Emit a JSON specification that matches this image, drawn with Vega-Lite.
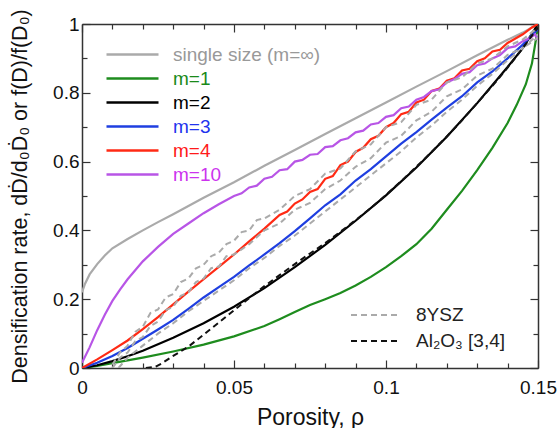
{
"$schema": "https://vega.github.io/schema/vega-lite/v6.json",
"width": 456, "height": 344,
"autosize": {"type": "none"},
"padding": {"left": 82, "top": 24, "right": 20, "bottom": 60},
"background": "white",
"config": {
 "view": {"stroke": null},
 "font": "Liberation Sans",
 "axis": {"domainColor": "#333", "domainWidth": 1.5, "tickColor": "#333", "tickWidth": 1.2, "labelFont": "Liberation Sans", "labelFontSize": 19, "labelColor": "#111", "titleFont": "Liberation Sans", "titleFontSize": 23, "titleFontWeight": "normal", "titleColor": "#111", "grid": false, "labelFlush": false, "labelOverlap": false}
},
"datasets": {
 "models": [
  {"series":"single size (m=∞)","x":0,"y":0.22},{"series":"single size (m=∞)","x":0.001,"y":0.245},{"series":"single size (m=∞)","x":0.0025,"y":0.272},{"series":"single size (m=∞)","x":0.005,"y":0.302},{"series":"single size (m=∞)","x":0.0075,"y":0.327},{"series":"single size (m=∞)","x":0.01,"y":0.348},{"series":"single size (m=∞)","x":0.015,"y":0.375},{"series":"single size (m=∞)","x":0.02,"y":0.4},{"series":"single size (m=∞)","x":0.025,"y":0.424},{"series":"single size (m=∞)","x":0.03,"y":0.447},{"series":"single size (m=∞)","x":0.035,"y":0.471},{"series":"single size (m=∞)","x":0.04,"y":0.495},{"series":"single size (m=∞)","x":0.05,"y":0.54},{"series":"single size (m=∞)","x":0.06,"y":0.588},{"series":"single size (m=∞)","x":0.07,"y":0.634},{"series":"single size (m=∞)","x":0.08,"y":0.68},{"series":"single size (m=∞)","x":0.09,"y":0.726},{"series":"single size (m=∞)","x":0.1,"y":0.772},{"series":"single size (m=∞)","x":0.11,"y":0.818},{"series":"single size (m=∞)","x":0.12,"y":0.863},{"series":"single size (m=∞)","x":0.13,"y":0.909},{"series":"single size (m=∞)","x":0.14,"y":0.954},{"series":"single size (m=∞)","x":0.145,"y":0.975},{"series":"single size (m=∞)","x":0.15,"y":1.0},
  {"series":"m=1","x":0,"y":0},{"series":"m=1","x":0.005,"y":0.006},{"series":"m=1","x":0.01,"y":0.014},{"series":"m=1","x":0.015,"y":0.022},{"series":"m=1","x":0.02,"y":0.03},{"series":"m=1","x":0.03,"y":0.048},{"series":"m=1","x":0.04,"y":0.068},{"series":"m=1","x":0.05,"y":0.092},{"series":"m=1","x":0.06,"y":0.122},{"series":"m=1","x":0.065,"y":0.142},{"series":"m=1","x":0.07,"y":0.163},{"series":"m=1","x":0.075,"y":0.183},{"series":"m=1","x":0.08,"y":0.2},{"series":"m=1","x":0.085,"y":0.218},{"series":"m=1","x":0.09,"y":0.24},{"series":"m=1","x":0.095,"y":0.265},{"series":"m=1","x":0.1,"y":0.293},{"series":"m=1","x":0.105,"y":0.325},{"series":"m=1","x":0.11,"y":0.36},{"series":"m=1","x":0.115,"y":0.405},{"series":"m=1","x":0.12,"y":0.46},{"series":"m=1","x":0.125,"y":0.515},{"series":"m=1","x":0.13,"y":0.575},{"series":"m=1","x":0.135,"y":0.64},{"series":"m=1","x":0.14,"y":0.712},{"series":"m=1","x":0.143,"y":0.765},{"series":"m=1","x":0.146,"y":0.825},{"series":"m=1","x":0.148,"y":0.885},{"series":"m=1","x":0.15,"y":0.99},
  {"series":"m=2","x":0,"y":0},{"series":"m=2","x":0.005,"y":0.008},{"series":"m=2","x":0.01,"y":0.02},{"series":"m=2","x":0.015,"y":0.034},{"series":"m=2","x":0.02,"y":0.05},{"series":"m=2","x":0.03,"y":0.088},{"series":"m=2","x":0.04,"y":0.13},{"series":"m=2","x":0.05,"y":0.178},{"series":"m=2","x":0.06,"y":0.232},{"series":"m=2","x":0.07,"y":0.293},{"series":"m=2","x":0.08,"y":0.358},{"series":"m=2","x":0.09,"y":0.428},{"series":"m=2","x":0.1,"y":0.502},{"series":"m=2","x":0.11,"y":0.583},{"series":"m=2","x":0.12,"y":0.672},{"series":"m=2","x":0.13,"y":0.77},{"series":"m=2","x":0.14,"y":0.875},{"series":"m=2","x":0.145,"y":0.93},{"series":"m=2","x":0.15,"y":1.0},
  {"series":"m=3","x":0,"y":0},{"series":"m=3","x":0.005,"y":0.015},{"series":"m=3","x":0.01,"y":0.035},{"series":"m=3","x":0.015,"y":0.058},{"series":"m=3","x":0.02,"y":0.085},{"series":"m=3","x":0.025,"y":0.112},{"series":"m=3","x":0.03,"y":0.14},{"series":"m=3","x":0.035,"y":0.172},{"series":"m=3","x":0.04,"y":0.205},{"series":"m=3","x":0.045,"y":0.235},{"series":"m=3","x":0.05,"y":0.265},{"series":"m=3","x":0.055,"y":0.298},{"series":"m=3","x":0.06,"y":0.33},{"series":"m=3","x":0.065,"y":0.363},{"series":"m=3","x":0.07,"y":0.398},{"series":"m=3","x":0.075,"y":0.435},{"series":"m=3","x":0.08,"y":0.473},{"series":"m=3","x":0.085,"y":0.505},{"series":"m=3","x":0.09,"y":0.545},{"series":"m=3","x":0.095,"y":0.578},{"series":"m=3","x":0.1,"y":0.615},{"series":"m=3","x":0.105,"y":0.652},{"series":"m=3","x":0.11,"y":0.686},{"series":"m=3","x":0.115,"y":0.722},{"series":"m=3","x":0.12,"y":0.757},{"series":"m=3","x":0.125,"y":0.79},{"series":"m=3","x":0.13,"y":0.83},{"series":"m=3","x":0.135,"y":0.862},{"series":"m=3","x":0.14,"y":0.9},{"series":"m=3","x":0.145,"y":0.94},{"series":"m=3","x":0.15,"y":0.985},
  {"series":"m=4","x":0,"y":0},{"series":"m=4","x":0.005,"y":0.025},{"series":"m=4","x":0.01,"y":0.052},{"series":"m=4","x":0.015,"y":0.08},{"series":"m=4","x":0.02,"y":0.113},{"series":"m=4","x":0.025,"y":0.148},{"series":"m=4","x":0.03,"y":0.185},{"series":"m=4","x":0.035,"y":0.222},{"series":"m=4","x":0.04,"y":0.258},{"series":"m=4","x":0.045,"y":0.294},{"series":"m=4","x":0.05,"y":0.33},{"series":"m=4","x":0.055,"y":0.368},{"series":"m=4","x":0.06,"y":0.405},{"series":"m=4","x":0.065,"y":0.445},{"series":"m=4","x":0.0675,"y":0.455},{"series":"m=4","x":0.07,"y":0.478},{"series":"m=4","x":0.0725,"y":0.49},{"series":"m=4","x":0.075,"y":0.512},{"series":"m=4","x":0.0775,"y":0.52},{"series":"m=4","x":0.08,"y":0.55},{"series":"m=4","x":0.0825,"y":0.558},{"series":"m=4","x":0.085,"y":0.59},{"series":"m=4","x":0.0875,"y":0.6},{"series":"m=4","x":0.09,"y":0.628},{"series":"m=4","x":0.0925,"y":0.64},{"series":"m=4","x":0.095,"y":0.665},{"series":"m=4","x":0.0975,"y":0.675},{"series":"m=4","x":0.1,"y":0.7},{"series":"m=4","x":0.1025,"y":0.712},{"series":"m=4","x":0.105,"y":0.738},{"series":"m=4","x":0.1075,"y":0.745},{"series":"m=4","x":0.11,"y":0.772},{"series":"m=4","x":0.1125,"y":0.78},{"series":"m=4","x":0.115,"y":0.805},{"series":"m=4","x":0.1175,"y":0.812},{"series":"m=4","x":0.12,"y":0.835},{"series":"m=4","x":0.1225,"y":0.842},{"series":"m=4","x":0.125,"y":0.865},{"series":"m=4","x":0.1275,"y":0.87},{"series":"m=4","x":0.13,"y":0.892},{"series":"m=4","x":0.1325,"y":0.9},{"series":"m=4","x":0.135,"y":0.92},{"series":"m=4","x":0.1375,"y":0.925},{"series":"m=4","x":0.14,"y":0.945},{"series":"m=4","x":0.145,"y":0.97},{"series":"m=4","x":0.148,"y":0.99},{"series":"m=4","x":0.15,"y":1.0},
  {"series":"m=10","x":0,"y":0.015},{"series":"m=10","x":0.0025,"y":0.06},{"series":"m=10","x":0.005,"y":0.11},{"series":"m=10","x":0.0075,"y":0.155},{"series":"m=10","x":0.01,"y":0.195},{"series":"m=10","x":0.0125,"y":0.228},{"series":"m=10","x":0.015,"y":0.258},{"series":"m=10","x":0.02,"y":0.31},{"series":"m=10","x":0.025,"y":0.352},{"series":"m=10","x":0.03,"y":0.39},{"series":"m=10","x":0.035,"y":0.42},{"series":"m=10","x":0.04,"y":0.45},{"series":"m=10","x":0.045,"y":0.476},{"series":"m=10","x":0.05,"y":0.5},{"series":"m=10","x":0.0525,"y":0.508},{"series":"m=10","x":0.055,"y":0.525},{"series":"m=10","x":0.0575,"y":0.53},{"series":"m=10","x":0.06,"y":0.55},{"series":"m=10","x":0.0625,"y":0.556},{"series":"m=10","x":0.065,"y":0.575},{"series":"m=10","x":0.0675,"y":0.578},{"series":"m=10","x":0.07,"y":0.6},{"series":"m=10","x":0.0725,"y":0.605},{"series":"m=10","x":0.075,"y":0.62},{"series":"m=10","x":0.0775,"y":0.622},{"series":"m=10","x":0.08,"y":0.642},{"series":"m=10","x":0.0825,"y":0.645},{"series":"m=10","x":0.085,"y":0.662},{"series":"m=10","x":0.0875,"y":0.668},{"series":"m=10","x":0.09,"y":0.685},{"series":"m=10","x":0.0925,"y":0.69},{"series":"m=10","x":0.095,"y":0.708},{"series":"m=10","x":0.0975,"y":0.712},{"series":"m=10","x":0.1,"y":0.73},{"series":"m=10","x":0.1025,"y":0.735},{"series":"m=10","x":0.105,"y":0.755},{"series":"m=10","x":0.1075,"y":0.76},{"series":"m=10","x":0.11,"y":0.78},{"series":"m=10","x":0.1125,"y":0.788},{"series":"m=10","x":0.115,"y":0.805},{"series":"m=10","x":0.1175,"y":0.81},{"series":"m=10","x":0.12,"y":0.83},{"series":"m=10","x":0.1225,"y":0.84},{"series":"m=10","x":0.125,"y":0.855},{"series":"m=10","x":0.1275,"y":0.86},{"series":"m=10","x":0.13,"y":0.88},{"series":"m=10","x":0.1325,"y":0.885},{"series":"m=10","x":0.135,"y":0.9},{"series":"m=10","x":0.1375,"y":0.91},{"series":"m=10","x":0.14,"y":0.93},{"series":"m=10","x":0.1425,"y":0.935},{"series":"m=10","x":0.145,"y":0.95},{"series":"m=10","x":0.1475,"y":0.96},{"series":"m=10","x":0.149,"y":0.97},{"series":"m=10","x":0.15,"y":0.955}
 ],
 "expts": [
  {"material":"8YSZ","run":"a","x":0.01,"y":0.01},{"material":"8YSZ","run":"a","x":0.0125,"y":0.045},{"material":"8YSZ","run":"a","x":0.015,"y":0.065},{"material":"8YSZ","run":"a","x":0.0175,"y":0.105},{"material":"8YSZ","run":"a","x":0.02,"y":0.12},{"material":"8YSZ","run":"a","x":0.0225,"y":0.16},{"material":"8YSZ","run":"a","x":0.025,"y":0.17},{"material":"8YSZ","run":"a","x":0.0275,"y":0.205},{"material":"8YSZ","run":"a","x":0.03,"y":0.215},{"material":"8YSZ","run":"a","x":0.0325,"y":0.25},{"material":"8YSZ","run":"a","x":0.035,"y":0.26},{"material":"8YSZ","run":"a","x":0.0375,"y":0.29},{"material":"8YSZ","run":"a","x":0.04,"y":0.3},{"material":"8YSZ","run":"a","x":0.0425,"y":0.325},{"material":"8YSZ","run":"a","x":0.045,"y":0.335},{"material":"8YSZ","run":"a","x":0.0475,"y":0.36},{"material":"8YSZ","run":"a","x":0.05,"y":0.37},{"material":"8YSZ","run":"a","x":0.0525,"y":0.395},{"material":"8YSZ","run":"a","x":0.055,"y":0.4},{"material":"8YSZ","run":"a","x":0.0575,"y":0.43},{"material":"8YSZ","run":"a","x":0.06,"y":0.435},{"material":"8YSZ","run":"a","x":0.065,"y":0.46},{"material":"8YSZ","run":"a","x":0.07,"y":0.5},{"material":"8YSZ","run":"a","x":0.075,"y":0.52},{"material":"8YSZ","run":"a","x":0.08,"y":0.565},{"material":"8YSZ","run":"a","x":0.085,"y":0.58},{"material":"8YSZ","run":"a","x":0.09,"y":0.63},{"material":"8YSZ","run":"a","x":0.095,"y":0.65},{"material":"8YSZ","run":"a","x":0.1,"y":0.7},{"material":"8YSZ","run":"a","x":0.105,"y":0.715},{"material":"8YSZ","run":"a","x":0.11,"y":0.765},{"material":"8YSZ","run":"a","x":0.115,"y":0.78},{"material":"8YSZ","run":"a","x":0.12,"y":0.83},{"material":"8YSZ","run":"a","x":0.125,"y":0.845},{"material":"8YSZ","run":"a","x":0.13,"y":0.885},{"material":"8YSZ","run":"a","x":0.135,"y":0.9},{"material":"8YSZ","run":"a","x":0.14,"y":0.935},{"material":"8YSZ","run":"a","x":0.145,"y":0.955},{"material":"8YSZ","run":"a","x":0.15,"y":0.99},
  {"material":"8YSZ","run":"b","x":0.01,"y":0.0},{"material":"8YSZ","run":"b","x":0.0125,"y":0.03},{"material":"8YSZ","run":"b","x":0.015,"y":0.045},{"material":"8YSZ","run":"b","x":0.0175,"y":0.078},{"material":"8YSZ","run":"b","x":0.02,"y":0.09},{"material":"8YSZ","run":"b","x":0.0225,"y":0.122},{"material":"8YSZ","run":"b","x":0.025,"y":0.135},{"material":"8YSZ","run":"b","x":0.0275,"y":0.168},{"material":"8YSZ","run":"b","x":0.03,"y":0.178},{"material":"8YSZ","run":"b","x":0.0325,"y":0.21},{"material":"8YSZ","run":"b","x":0.035,"y":0.22},{"material":"8YSZ","run":"b","x":0.0375,"y":0.25},{"material":"8YSZ","run":"b","x":0.04,"y":0.26},{"material":"8YSZ","run":"b","x":0.0425,"y":0.29},{"material":"8YSZ","run":"b","x":0.045,"y":0.295},{"material":"8YSZ","run":"b","x":0.0475,"y":0.325},{"material":"8YSZ","run":"b","x":0.05,"y":0.33},{"material":"8YSZ","run":"b","x":0.055,"y":0.36},{"material":"8YSZ","run":"b","x":0.06,"y":0.4},{"material":"8YSZ","run":"b","x":0.065,"y":0.42},{"material":"8YSZ","run":"b","x":0.07,"y":0.46},{"material":"8YSZ","run":"b","x":0.075,"y":0.48},{"material":"8YSZ","run":"b","x":0.08,"y":0.52},{"material":"8YSZ","run":"b","x":0.085,"y":0.545},{"material":"8YSZ","run":"b","x":0.09,"y":0.585},{"material":"8YSZ","run":"b","x":0.095,"y":0.61},{"material":"8YSZ","run":"b","x":0.1,"y":0.655},{"material":"8YSZ","run":"b","x":0.105,"y":0.675},{"material":"8YSZ","run":"b","x":0.11,"y":0.72},{"material":"8YSZ","run":"b","x":0.115,"y":0.745},{"material":"8YSZ","run":"b","x":0.12,"y":0.79},{"material":"8YSZ","run":"b","x":0.125,"y":0.81},{"material":"8YSZ","run":"b","x":0.13,"y":0.85},{"material":"8YSZ","run":"b","x":0.135,"y":0.87},{"material":"8YSZ","run":"b","x":0.14,"y":0.91},{"material":"8YSZ","run":"b","x":0.145,"y":0.93},{"material":"8YSZ","run":"b","x":0.15,"y":0.97},
  {"material":"8YSZ","run":"c","x":0.012,"y":0.0},{"material":"8YSZ","run":"c","x":0.015,"y":0.03},{"material":"8YSZ","run":"c","x":0.02,"y":0.065},{"material":"8YSZ","run":"c","x":0.025,"y":0.1},{"material":"8YSZ","run":"c","x":0.03,"y":0.13},{"material":"8YSZ","run":"c","x":0.035,"y":0.165},{"material":"8YSZ","run":"c","x":0.04,"y":0.195},{"material":"8YSZ","run":"c","x":0.045,"y":0.225},{"material":"8YSZ","run":"c","x":0.05,"y":0.255},{"material":"8YSZ","run":"c","x":0.055,"y":0.29},{"material":"8YSZ","run":"c","x":0.06,"y":0.32},{"material":"8YSZ","run":"c","x":0.065,"y":0.355},{"material":"8YSZ","run":"c","x":0.07,"y":0.385},{"material":"8YSZ","run":"c","x":0.075,"y":0.42},{"material":"8YSZ","run":"c","x":0.08,"y":0.455},{"material":"8YSZ","run":"c","x":0.085,"y":0.49},{"material":"8YSZ","run":"c","x":0.09,"y":0.525},{"material":"8YSZ","run":"c","x":0.095,"y":0.56},{"material":"8YSZ","run":"c","x":0.1,"y":0.595},{"material":"8YSZ","run":"c","x":0.105,"y":0.63},{"material":"8YSZ","run":"c","x":0.11,"y":0.67},{"material":"8YSZ","run":"c","x":0.115,"y":0.705},{"material":"8YSZ","run":"c","x":0.12,"y":0.745},{"material":"8YSZ","run":"c","x":0.125,"y":0.78},{"material":"8YSZ","run":"c","x":0.13,"y":0.82},{"material":"8YSZ","run":"c","x":0.135,"y":0.855},{"material":"8YSZ","run":"c","x":0.14,"y":0.895},{"material":"8YSZ","run":"c","x":0.145,"y":0.93},{"material":"8YSZ","run":"c","x":0.15,"y":0.96},
  {"material":"Al₂O₃ [3,4]","run":"d","x":0.021,"y":0},{"material":"Al₂O₃ [3,4]","run":"d","x":0.024,"y":0.003},{"material":"Al₂O₃ [3,4]","run":"d","x":0.026,"y":0.012},{"material":"Al₂O₃ [3,4]","run":"d","x":0.03,"y":0.035},{"material":"Al₂O₃ [3,4]","run":"d","x":0.035,"y":0.062},{"material":"Al₂O₃ [3,4]","run":"d","x":0.04,"y":0.097},{"material":"Al₂O₃ [3,4]","run":"d","x":0.045,"y":0.132},{"material":"Al₂O₃ [3,4]","run":"d","x":0.05,"y":0.168},{"material":"Al₂O₃ [3,4]","run":"d","x":0.055,"y":0.203},{"material":"Al₂O₃ [3,4]","run":"d","x":0.06,"y":0.238},{"material":"Al₂O₃ [3,4]","run":"d","x":0.065,"y":0.27},{"material":"Al₂O₃ [3,4]","run":"d","x":0.07,"y":0.302},{"material":"Al₂O₃ [3,4]","run":"d","x":0.075,"y":0.333},{"material":"Al₂O₃ [3,4]","run":"d","x":0.08,"y":0.363},{"material":"Al₂O₃ [3,4]","run":"d","x":0.085,"y":0.396},{"material":"Al₂O₃ [3,4]","run":"d","x":0.09,"y":0.43},{"material":"Al₂O₃ [3,4]","run":"d","x":0.095,"y":0.465},{"material":"Al₂O₃ [3,4]","run":"d","x":0.1,"y":0.503},{"material":"Al₂O₃ [3,4]","run":"d","x":0.105,"y":0.543},{"material":"Al₂O₃ [3,4]","run":"d","x":0.11,"y":0.585},{"material":"Al₂O₃ [3,4]","run":"d","x":0.115,"y":0.628},{"material":"Al₂O₃ [3,4]","run":"d","x":0.12,"y":0.673},{"material":"Al₂O₃ [3,4]","run":"d","x":0.125,"y":0.72},{"material":"Al₂O₃ [3,4]","run":"d","x":0.13,"y":0.77},{"material":"Al₂O₃ [3,4]","run":"d","x":0.135,"y":0.82},{"material":"Al₂O₃ [3,4]","run":"d","x":0.14,"y":0.873},{"material":"Al₂O₃ [3,4]","run":"d","x":0.145,"y":0.93},{"material":"Al₂O₃ [3,4]","run":"d","x":0.15,"y":0.99}
 ]
},
"layer": [
 {
  "data": {"name": "models"},
  "mark": {"type": "line", "strokeWidth": 2.2, "clip": true},
  "encoding": {
   "x": {"field": "x", "type": "quantitative", "scale": {"domain": [0, 0.15], "nice": false, "zero": false},
     "axis": {"orient": "bottom", "values": [0,0.01,0.02,0.03,0.04,0.05,0.06,0.07,0.08,0.09,0.1,0.11,0.12,0.13,0.14,0.15],
       "labelExpr": "(datum.value===0||datum.value===0.05||datum.value===0.1||datum.value===0.15)?format(datum.value,'~g'):''",
       "tickSize": {"condition": {"test": "datum.value===0||datum.value===0.05||datum.value===0.1||datum.value===0.15", "value": -8}, "value": -5},
       "labelPadding": 18, "title": "Porosity, ρ", "titlePadding": 6}},
   "y": {"field": "y", "type": "quantitative", "scale": {"domain": [0, 1], "nice": false},
     "axis": {"orient": "left", "values": [0,0.1,0.2,0.3,0.4,0.5,0.6,0.7,0.8,0.9,1],
       "labelExpr": "(datum.value===0||datum.value===0.2||datum.value===0.4||datum.value===0.6||datum.value===0.8||datum.value===1)?format(datum.value,'~g'):''",
       "tickSize": {"condition": {"test": "datum.value===0||datum.value===0.2||datum.value===0.4||datum.value===0.6||datum.value===0.8||datum.value===1", "value": -8}, "value": -5},
       "labelPadding": 11, "title": "Densification rate, dḊ/d₀Ḋ₀ or f(D)/f(D₀)", "titleFontSize": 21.5, "titlePadding": 21}},
   "color": {"field": "series", "type": "nominal",
     "scale": {"domain": ["single size (m=∞)", "m=1", "m=2", "m=3", "m=4", "m=10"], "range": ["#aaaaaa", "#1e8c1e", "#000000", "#1f3fe0", "#ff2a14", "#b855e6"]},
     "legend": {"orient": "none", "legendX": 39, "legendY": 19, "title": null, "symbolType": "M-2.6,0H2.6", "symbolSize": 400, "symbolStrokeWidth": 2.5, "labelFontSize": 19, "labelFont": "Liberation Sans", "labelOffset": 29, "rowPadding": 2,
       "encode": {"labels": {"update": {"fill": {"signal": "datum.value==='m=1'?'#1a8a1a':datum.value==='m=2'?'#000000':datum.value==='m=3'?'#2233ee':datum.value==='m=4'?'#ff1a1a':datum.value==='m=10'?'#cc33ee':'#999999'"}}}}}}
  }
 },
 {
  "data": {"name": "expts"},
  "mark": {"type": "line", "strokeWidth": 2, "strokeDash": [6, 4], "clip": true},
  "encoding": {
   "x": {"field": "x", "type": "quantitative",
     "axis": {"orient": "top", "values": [0,0.01,0.02,0.03,0.04,0.05,0.06,0.07,0.08,0.09,0.1,0.11,0.12,0.13,0.14,0.15], "labels": false, "title": null,
       "tickSize": {"condition": {"test": "datum.value===0||datum.value===0.05||datum.value===0.1||datum.value===0.15", "value": -8}, "value": -5}}},
   "y": {"field": "y", "type": "quantitative",
     "axis": {"orient": "right", "values": [0,0.1,0.2,0.3,0.4,0.5,0.6,0.7,0.8,0.9,1], "labels": false, "title": null,
       "tickSize": {"condition": {"test": "datum.value===0||datum.value===0.2||datum.value===0.4||datum.value===0.6||datum.value===0.8||datum.value===1", "value": -8}, "value": -5}}},
   "detail": {"field": "run", "type": "nominal"},
   "color": {"field": "material", "type": "nominal",
     "scale": {"domain": ["8YSZ", "Al₂O₃ [3,4]"], "range": ["#aaaaaa", "#111111"]},
     "legend": {"orient": "none", "legendX": 283, "legendY": 280, "title": null, "symbolType": "M-2.5,0H2.5", "symbolSize": 400, "symbolStrokeWidth": 2, "symbolDash": [6, 4], "labelFontSize": 19, "labelFont": "Liberation Sans", "labelColor": "#222222", "labelOffset": 29, "rowPadding": 5}}
  }
 }
],
"resolve": {"scale": {"color": "independent"}, "axis": {"x": "independent", "y": "independent"}}
}
